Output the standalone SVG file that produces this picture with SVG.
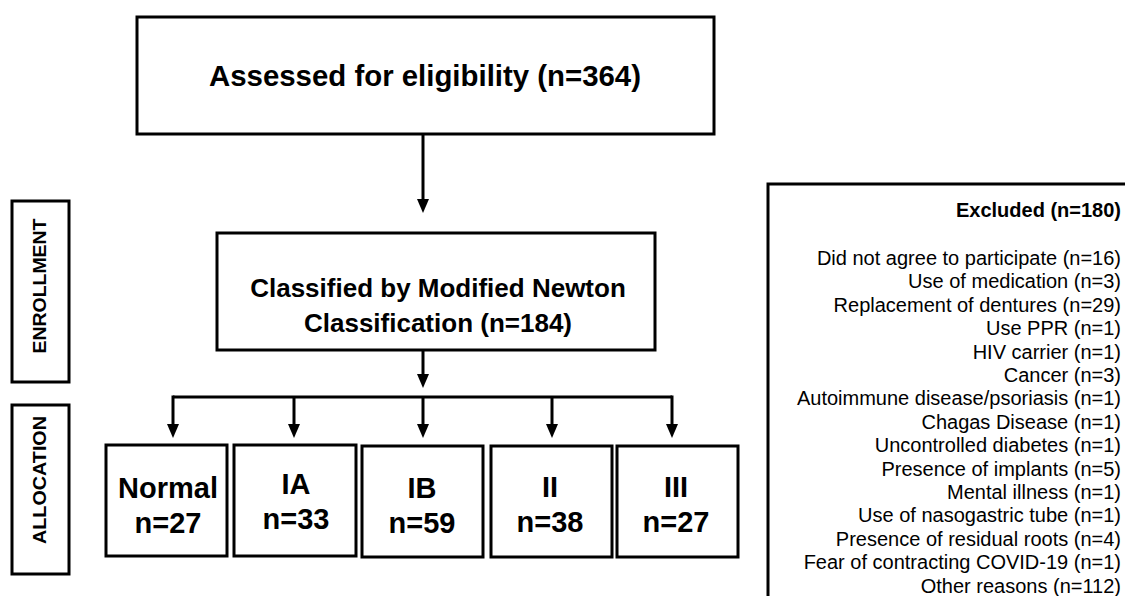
<svg xmlns="http://www.w3.org/2000/svg" width="1125" height="596" viewBox="0 0 1125 596">
<style>
.box{fill:#fff;stroke:#000;stroke-width:3}
.ln{fill:none;stroke:#000;stroke-width:3}
.b{font-family:"Liberation Sans",Arial,sans-serif;font-weight:bold;fill:#000}
.r{font-family:"Liberation Sans",Arial,sans-serif;fill:#000}
</style>
<defs>
<marker id="ah" markerUnits="userSpaceOnUse" viewBox="0 0 14 12" refX="4" refY="6" markerWidth="14" markerHeight="12" orient="auto">
<path d="M0,0 L14,6 L0,12 z" fill="#000"/>
</marker>
</defs>
<rect width="1125" height="596" fill="#fff"/>
<g id="connectors">
<line class="ln" x1="423" y1="134" x2="423" y2="203" marker-end="url(#ah)"/>
<line class="ln" x1="423" y1="350" x2="423" y2="378" marker-end="url(#ah)"/>
<polyline class="ln" points="173,397 672,397"/>
<line class="ln" x1="173" y1="395.5" x2="173" y2="428" marker-end="url(#ah)"/>
<line class="ln" x1="294" y1="397" x2="294" y2="428" marker-end="url(#ah)"/>
<line class="ln" x1="423" y1="397" x2="423" y2="428" marker-end="url(#ah)"/>
<line class="ln" x1="552" y1="397" x2="552" y2="428" marker-end="url(#ah)"/>
<line class="ln" x1="672" y1="395.5" x2="672" y2="428" marker-end="url(#ah)"/>
</g>
<g id="assessed">
<rect class="box" x="137" y="17" width="577" height="117"/>
<text class="b" x="425" y="86" font-size="30" text-anchor="middle" textLength="432" lengthAdjust="spacingAndGlyphs">Assessed for eligibility (n=364)</text>
</g>
<g id="enrollment">
<rect class="box" x="12" y="201" width="57" height="181"/>
<text class="b" font-size="18.5" text-anchor="middle" textLength="135" lengthAdjust="spacingAndGlyphs" transform="translate(46,286) rotate(-90)">ENROLLMENT</text>
</g>
<g id="classified">
<rect class="box" x="217" y="233" width="438" height="117"/>
<text class="b" x="438" y="297" font-size="26" text-anchor="middle">Classified by Modified Newton</text>
<text class="b" x="438" y="332" font-size="26" text-anchor="middle">Classification (n=184)</text>
</g>
<g id="allocation">
<rect class="box" x="12" y="405" width="57" height="169"/>
<text class="b" font-size="18.5" text-anchor="middle" textLength="128" lengthAdjust="spacingAndGlyphs" transform="translate(46,480) rotate(-90)">ALLOCATION</text>
</g>
<g id="normal">
<rect class="box" x="106" y="445" width="121" height="111"/>
<text class="b" x="168" y="498" font-size="29" text-anchor="middle">Normal</text>
<text class="b" x="168" y="533" font-size="29" text-anchor="middle">n=27</text>
</g>
<g id="ia">
<rect class="box" x="234" y="445" width="122" height="111"/>
<text class="b" x="296" y="494" font-size="29" text-anchor="middle">IA</text>
<text class="b" x="296" y="529" font-size="29" text-anchor="middle">n=33</text>
</g>
<g id="ib">
<rect class="box" x="362" y="446" width="121" height="111"/>
<text class="b" x="422" y="498" font-size="29" text-anchor="middle">IB</text>
<text class="b" x="422" y="533" font-size="29" text-anchor="middle">n=59</text>
</g>
<g id="ii">
<rect class="box" x="491" y="446" width="121" height="111"/>
<text class="b" x="550" y="497" font-size="29" text-anchor="middle">II</text>
<text class="b" x="550" y="532" font-size="29" text-anchor="middle">n=38</text>
</g>
<g id="iii">
<rect class="box" x="617" y="446" width="121" height="111"/>
<text class="b" x="676" y="497" font-size="29" text-anchor="middle">III</text>
<text class="b" x="676" y="532" font-size="29" text-anchor="middle">n=27</text>
</g>
<g id="excluded">
<rect class="box" x="768" y="184" width="370" height="420"/>
<text class="b" x="1121" y="217" font-size="20" text-anchor="end">Excluded (n=180)</text>
<g class="r" font-size="20" text-anchor="end">
<text x="1121" y="265">Did not agree to participate (n=16)</text>
<text x="1121" y="288.4">Use of medication (n=3)</text>
<text x="1121" y="311.8">Replacement of dentures (n=29)</text>
<text x="1121" y="335.2">Use PPR (n=1)</text>
<text x="1121" y="358.6">HIV carrier (n=1)</text>
<text x="1121" y="382">Cancer (n=3)</text>
<text x="1121" y="405.4">Autoimmune disease/psoriasis (n=1)</text>
<text x="1121" y="428.8">Chagas Disease (n=1)</text>
<text x="1121" y="452.2">Uncontrolled diabetes (n=1)</text>
<text x="1121" y="475.6">Presence of implants (n=5)</text>
<text x="1121" y="499">Mental illness (n=1)</text>
<text x="1121" y="522.4">Use of nasogastric tube (n=1)</text>
<text x="1121" y="545.8">Presence of residual roots (n=4)</text>
<text x="1121" y="569.2">Fear of contracting COVID-19 (n=1)</text>
<text x="1121" y="592.6">Other reasons (n=112)</text>
</g>
</g>
</svg>
